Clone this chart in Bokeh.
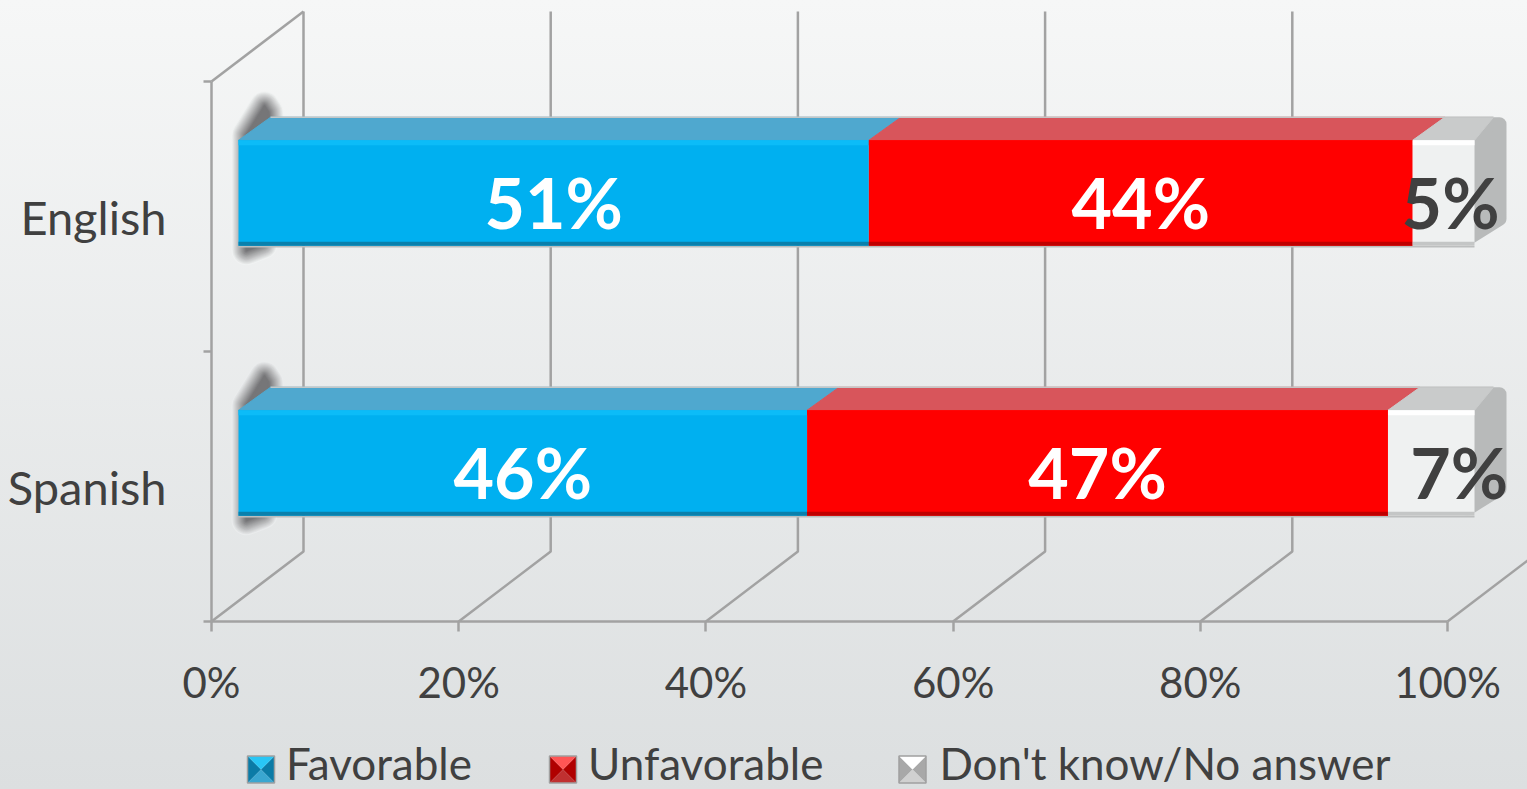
import numpy as np
from bokeh.core.properties import value
from bokeh.embed import file_html
from bokeh.models import ColumnDataSource, FixedTicker, Legend, LegendItem
from bokeh.plotting import figure
from bokeh.resources import INLINE

categories = ["Spanish", "English"]
series_names = ["Favorable", "Unfavorable", "Don't know/No answer"]
favorable = [46, 51]
unfavorable = [47, 44]
dont_know = [7, 5]
x_ticks = [0, 20, 40, 60, 80, 100]
x_tick_labels = ["0%", "20%", "40%", "60%", "80%", "100%"]

front_colors = ["#00b0f0", "#ff0000", "#eff1f1"]
top_colors = ["#4fa8cf", "#d8555b", "#c9cbcb"]
label_colors = ["#ffffff", "#ffffff", "#404040"]
low_colors = ["#0a80ac", "#c00000", "#c4c6c6"]
high_colors = ["#0cbcf8", "#ff0000", "#ffffff"]
GRID = "#a2a2a2"
TEXT = "#404040"

PX_X = 12.36   # pixels per percent
PX_Y = 270.0   # pixels per category
WALL_DX, WALL_DY = 92 / PX_X, 70 / PX_Y
BAR_X0, BAR_Y0 = 27 / PX_X, 23.5 / PX_Y
BAR_DX, BAR_DY = 32 / PX_X, 23 / PX_Y
BAR_H = 105.5 / PX_Y
label_nudge_px = {"Spanish": 28, "English": 7}


def dx(px):
    return (px - 211) / PX_X


def dy(px):
    return (621 - px) / PX_Y


p = figure(
    width=1527, height=789, output_backend="svg", toolbar_location=None,
    x_range=(dx(0), dx(1527)), y_range=(dy(789), dy(0)),
    min_border=0, outline_line_color=None,
    background_fill_color=None, border_fill_color=None,
)
p.grid.visible = False

# walls and floor of the 3-D box
xs = [[t, t + WALL_DX, t + WALL_DX] for t in x_ticks[:-1]]
ys = [[0, WALL_DY, 2 + WALL_DY] for _ in x_ticks[:-1]]
xs += [[0, WALL_DX], [100, 100 + WALL_DX]]
ys += [[2, 2 + WALL_DY], [0, WALL_DY]]
p.multi_line(xs, ys, line_color=GRID, line_width=2.5)

rows = np.arange(len(categories)) + 0.5
vals = np.array([favorable, unfavorable, dont_know], dtype=float)
lefts = np.vstack([np.zeros(2), np.cumsum(vals, axis=0)[:-1]]) + BAR_X0
rights = lefts + vals
y_low = rows + BAR_Y0 - BAR_H / 2
y_top = y_low + BAR_H

# soft shadow on the side wall: opaque rings running from the wall's tone to dark grey
shadow_dx = [8, 26, 30, 32, 24, 8]
shadow_dy = [5, 34, 28, 0, -104, -110]
shadow_bg = {0: (234, 236, 237), 1: (240, 242, 242)}
shadow_core = np.array((118, 118, 120))
for r in range(2):
    sx = [lefts[0, r] + d / PX_X for d in shadow_dx]
    sy = [y_top[r] + d / PX_Y for d in shadow_dy]
    bg = np.array(shadow_bg[r])
    for w in range(30, 0, -2):
        t = (30 - w) / 28
        c = bg + (shadow_core - bg) * t
        col = "#%02x%02x%02x" % tuple(int(v) for v in c)
        p.patch(sx, sy, fill_color=col, line_color=col, line_width=w, line_join="round")

# side of the last segment, with its rounded corners
CORNER = 7
side_x = [[rights[2, r] - CORNER / PX_X, rights[2, r] + (BAR_DX * PX_X - CORNER) / PX_X,
           rights[2, r] + (BAR_DX * PX_X - CORNER) / PX_X, rights[2, r] - CORNER / PX_X] for r in range(2)]
side_y = [[y_low[r] + CORNER / PX_Y, y_low[r] + BAR_DY + (CORNER - 3) / PX_Y,
           y_top[r] + BAR_DY - CORNER / PX_Y, y_top[r] + BAR_DY - CORNER / PX_Y] for r in range(2)]
p.patches(side_x, side_y, fill_color="#b8baba", line_color="#b8baba", line_width=2 * CORNER, line_join="round")

# top faces
top_end = 13 / PX_X
for s in range(3):
    tx = [[lefts[s, r], lefts[s, r] + BAR_DX, rights[s, r] + BAR_DX - (top_end if s == 2 else 0), rights[s, r]] for r in range(2)]
    ty = [[y_top[r], y_top[r] + BAR_DY, y_top[r] + BAR_DY, y_top[r]] for r in range(2)]
    p.patches(tx, ty, fill_color=top_colors[s], line_color=top_colors[s], line_width=1)
p.multi_line([[lefts[0, r] + BAR_DX, rights[2, r] + BAR_DX - top_end] for r in range(2)],
             [[y_top[r] + BAR_DY, y_top[r] + BAR_DY] for r in range(2)], line_color="#c4c6c6", line_width=1.5)
p.multi_line([[lefts[0, r], rights[2, r]] for r in range(2)],
             [[y_low[r] - 1 / PX_Y, y_low[r] - 1 / PX_Y] for r in range(2)], line_color="#bcbebe", line_width=1.5)

# front faces, with the two strips of bevel; the invisible copies carry the legend swatches
legend_renderers = []
for s in range(3):
    p.hbar(y=rows + BAR_Y0, left=lefts[s], right=rights[s], height=BAR_H,
           fill_color=front_colors[s], line_color=None)
    legend_renderers.append(p.hbar(y=rows + BAR_Y0, left=lefts[s], right=rights[s], height=BAR_H,
                                   fill_color=front_colors[s], fill_alpha=0, line_color=None))
    p.hbar(y=y_top - 2.5 / PX_Y, left=lefts[s], right=rights[s], height=5 / PX_Y,
           fill_color=high_colors[s], line_color=None)
    p.hbar(y=y_low + 2 / PX_Y, left=lefts[s], right=rights[s], height=4 / PX_Y,
           fill_color=low_colors[s], line_color=None)

# value labels
lx, ly, lt, lc, ln = [], [], [], [], []
for s in range(3):
    for r, cat in enumerate(categories):
        lx.append((lefts[s, r] + rights[s, r]) / 2)
        ly.append(rows[r] + 15 / PX_Y)
        lt.append(f"{int(vals[s, r])}%")
        lc.append(label_colors[s])
        ln.append(label_nudge_px[cat] if s == 2 else 0)
src = ColumnDataSource(dict(x=lx, y=ly, t=lt, c=lc, n=ln))
p.text("x", "y", text="t", source=src, text_color="c", x_offset="n",
       text_font=value("Lato"), text_font_style="bold", text_font_size="70px",
       text_align="center", text_baseline="middle")

# axes
xa = p.xaxis[0]
xa.fixed_location = 0
xa.ticker = FixedTicker(ticks=x_ticks)
xa.major_label_overrides = dict(zip(x_ticks, x_tick_labels))
xa.bounds = (0, 100)
xa.axis_line_color = GRID
xa.axis_line_width = 2.5
xa.major_tick_line_color = GRID
xa.major_tick_line_width = 2.5
xa.major_tick_in = 0
xa.major_tick_out = 10
xa.minor_tick_line_color = None
xa.major_label_standoff = 25
xa.major_label_text_font = "Lato"
xa.major_label_text_font_size = "42px"
xa.major_label_text_color = TEXT

ya = p.yaxis[0]
ya.fixed_location = 0
ya.ticker = FixedTicker(ticks=list(rows), minor_ticks=[0, 1, 2])
ya.major_label_overrides = dict(zip(map(float, rows), categories))
ya.bounds = (0, 2)
ya.axis_line_color = GRID
ya.axis_line_width = 2.5
ya.major_tick_line_color = None
ya.major_tick_in = 0
ya.major_tick_out = 0
ya.minor_tick_line_color = GRID
ya.minor_tick_line_width = 2.5
ya.minor_tick_in = 0
ya.minor_tick_out = 8
ya.major_label_standoff = 37
ya.major_label_text_font = "Lato"
ya.major_label_text_font_size = "47px"
ya.major_label_text_color = TEXT

legend = Legend(
    items=[LegendItem(label=n, renderers=[r]) for n, r in zip(series_names, legend_renderers)],
    orientation="horizontal", location=(242, 0), background_fill_alpha=0, border_line_color=None,
    padding=0, margin=0, spacing=72, glyph_width=33, glyph_height=33, label_standoff=11,
    label_text_font="Lato", label_text_font_size="44px", label_text_color=TEXT,
)
p.add_layout(legend, "center")

# pyramid bevel on the legend swatches
icon_x = [260.5, 562.5, 912]
icon_y = 769
icon_r = 13.5
bevel_side = ["#0b7ba6", "#b00000", "#a8a8a8"]
bevel_top = ["#29c6f5", "#ff5555", "#ffffff"]
bevel_low = ["#3aa6d0", "#c03030", "#d0d0d0"]
for c, cs, ct, cl in zip(icon_x, bevel_side, bevel_top, bevel_low):
    L, R, T, B = dx(c - icon_r), dx(c + icon_r), dy(icon_y - icon_r), dy(icon_y + icon_r)
    mx, my = dx(c), dy(icon_y)
    p.patches([[L, L, mx], [R, R, mx]], [[T, B, my], [T, B, my]], fill_color=cs, line_color=None)
    p.patches([[L, R, mx]], [[T, T, my]], fill_color=ct, line_color=None)
    p.patches([[L, R, mx]], [[B, B, my]], fill_color=cl, line_color=None)
    p.patches([[L, R, R, L]], [[T, T, B, B]], fill_color=None, line_color="#a0a0a0", line_width=1.5)

style = ("<style>html{background:linear-gradient(#f6f7f7,#dcdfe0);min-height:100%}"
         "body{background:transparent;overflow:hidden}</style>")
html = file_html(p, INLINE).replace("</head>", style + "</head>", 1)
open("out.html", "w").write(html)
